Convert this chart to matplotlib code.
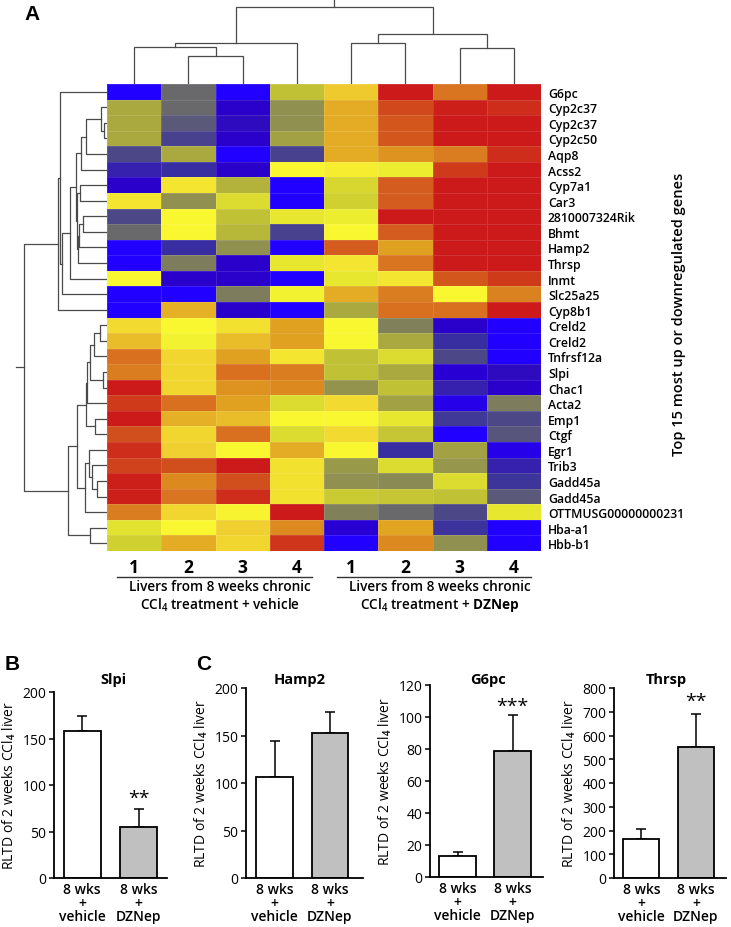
import matplotlib
matplotlib.use("Agg")
import matplotlib.pyplot as plt
from matplotlib.colors import LinearSegmentedColormap
from matplotlib.lines import Line2D
import numpy as np

plt.rcParams['font.family'] = ['Open Sans', 'DejaVu Sans']
plt.rcParams['font.weight'] = 'semibold'
plt.rcParams['mathtext.fontset'] = 'custom'
plt.rcParams['mathtext.rm'] = 'Open Sans:semibold'
plt.rcParams['mathtext.bf'] = 'Open Sans:bold'

# ---------------- data ----------------
genes = ["G6pc", "Cyp2c37", "Cyp2c37", "Cyp2c50", "Aqp8", "Acss2", "Cyp7a1", "Car3",
         "2810007324Rik", "Bhmt", "Hamp2", "Thrsp", "Inmt", "Slc25a25", "Cyp8b1",
         "Creld2", "Creld2", "Tnfrsf12a", "Slpi", "Chac1", "Acta2", "Emp1", "Ctgf",
         "Egr1", "Trib3", "Gadd45a", "Gadd45a", "OTTMUSG00000000231", "Hba-a1", "Hbb-b1"]

sample_labels = ["1", "2", "3", "4", "1", "2", "3", "4"]

# relative expression (0 = lowest / blue, 1 = highest / red), columns 1-4
heat_vehicle = [
    [0.00, 0.30, 0.00, 0.55], [0.50, 0.30, 0.05, 0.42], [0.50, 0.25, 0.07, 0.42],
    [0.50, 0.18, 0.05, 0.48], [0.20, 0.50, 0.00, 0.18], [0.10, 0.12, 0.05, 0.65],
    [0.05, 0.68, 0.52, 0.00], [0.68, 0.42, 0.60, 0.00], [0.20, 0.65, 0.55, 0.62],
    [0.30, 0.65, 0.53, 0.18], [0.00, 0.12, 0.42, 0.00], [0.00, 0.36, 0.05, 0.62],
    [0.65, 0.05, 0.05, 0.00], [0.00, 0.00, 0.36, 0.64], [0.00, 0.77, 0.05, 0.00],
    [0.70, 0.65, 0.69, 0.80], [0.75, 0.64, 0.75, 0.80], [0.87, 0.71, 0.80, 0.68],
    [0.85, 0.71, 0.87, 0.85], [1.00, 0.71, 0.82, 0.83], [0.95, 0.87, 0.80, 0.60],
    [1.00, 0.77, 0.75, 0.65], [0.92, 0.71, 0.87, 0.60], [0.97, 0.72, 0.65, 0.78],
    [0.94, 0.92, 1.00, 0.69], [0.99, 0.83, 0.92, 0.69], [0.99, 0.86, 0.97, 0.69],
    [0.85, 0.71, 0.66, 1.00], [0.61, 0.65, 0.72, 0.83], [0.58, 0.78, 0.71, 0.96]]

# columns 1-4 of DZNep group
heat_dznep = [
    [0.73, 1.00, 0.86, 1.00], [0.78, 0.93, 0.99, 0.97], [0.78, 0.91, 1.00, 1.00],
    [0.78, 0.91, 1.00, 1.00], [0.78, 0.82, 0.85, 0.97], [0.67, 0.63, 0.95, 1.00],
    [0.59, 0.90, 1.00, 1.00], [0.58, 0.90, 1.00, 1.00], [0.63, 1.00, 1.00, 1.00],
    [0.65, 0.90, 1.00, 1.00], [0.90, 0.80, 1.00, 1.00], [0.68, 0.86, 1.00, 1.00],
    [0.62, 0.68, 0.91, 0.95], [0.78, 0.85, 0.65, 0.84], [0.50, 0.87, 0.87, 1.00],
    [0.65, 0.37, 0.05, 0.00], [0.65, 0.50, 0.12, 0.00], [0.55, 0.60, 0.20, 0.00],
    [0.55, 0.50, 0.04, 0.07], [0.43, 0.55, 0.10, 0.05], [0.70, 0.48, 0.02, 0.36],
    [0.65, 0.62, 0.15, 0.20], [0.70, 0.56, 0.00, 0.24], [0.65, 0.12, 0.48, 0.02],
    [0.45, 0.60, 0.44, 0.10], [0.42, 0.40, 0.60, 0.14], [0.57, 0.56, 0.55, 0.25],
    [0.37, 0.30, 0.20, 0.62], [0.04, 0.79, 0.13, 0.00], [0.00, 0.83, 0.42, 0.00]]

# column dendrogram merges: (child a, child b, height); leaves 0..7, new nodes 8..
col_links = [(1, 2, 28), (0, 8, 37), (9, 3, 41), (4, 5, 41), (6, 7, 36),
             (11, 12, 50), (10, 13, 77)]
col_root_top = 84

# row dendrogram merges; leaves 0..29, new nodes 30..
row_links = [(2, 3, 3), (1, 30, 6), (31, 4, 21), (32, 5, 26), (6, 7, 27),
             (8, 9, 24), (35, 10, 28), (36, 11, 29), (34, 37, 30), (33, 38, 31),
             (39, 12, 37), (40, 13, 45), (0, 41, 47), (42, 14, 49),
             (15, 16, 7), (44, 17, 13), (18, 19, 4), (45, 46, 17), (47, 20, 20),
             (21, 22, 12), (48, 49, 21), (25, 26, 10), (24, 51, 15), (23, 52, 18),
             (53, 27, 22), (50, 54, 30), (28, 29, 17), (55, 56, 39), (43, 57, 83)]
row_root_top = 91

bar_groups = ["8 wks\n+\nvehicle", "8 wks\n+\nDZNep"]
slpi_mean = [158, 55]
slpi_err = [16, 19]
hamp2_mean = [106, 153]
hamp2_err = [38, 22]
g6pc_mean = [13, 79]
g6pc_err = [2.5, 22]
thrsp_mean = [163, 553]
thrsp_err = [42, 137]
stars = {"Slpi": "**", "Hamp2": "", "G6pc": "***", "Thrsp": "**"}

# ---------------- figure ----------------
W, H = 731, 928
fig = plt.figure(figsize=(W / 100, H / 100), dpi=100)


def px_axes(l, t, r, b):
    return fig.add_axes([l / W, 1 - b / H, (r - l) / W, (b - t) / H])


cmap = LinearSegmentedColormap.from_list("heat", [
    (0.00, "#2200ff"), (0.05, "#2a00c8"), (0.12, "#3a30a0"), (0.20, "#4c4888"),
    (0.30, "#6a6a6a"), (0.42, "#909050"), (0.50, "#a8a840"), (0.58, "#d0d030"),
    (0.65, "#f8f830"), (0.72, "#f0d030"), (0.80, "#e0a020"), (0.87, "#d87020"),
    (0.93, "#d04a1c"), (1.00, "#cc1a1a")])

HL, HT, HR, HB = 107, 85, 541, 552
axh = px_axes(HL, HT, HR, HB)
data = np.hstack([np.array(heat_vehicle), np.array(heat_dznep)])
nrow, ncol = data.shape
axh.pcolormesh(np.arange(ncol + 1), np.arange(nrow + 1), data, cmap=cmap,
               vmin=0, vmax=1, edgecolors=(1, 1, 1, 0.12), linewidth=0.4)
axh.set_xlim(0, ncol)
axh.set_ylim(nrow, 0)
for s in axh.spines.values():
    s.set_visible(False)
axh.yaxis.tick_right()
axh.set_yticks(np.arange(nrow) + 0.5)
axh.set_yticklabels(genes, fontsize=8.8)
axh.tick_params(axis='y', length=0, pad=5)
axh.set_xticks(np.arange(ncol) + 0.5)
axh.set_xticklabels(sample_labels, fontsize=12.5, fontweight='bold')
axh.tick_params(axis='x', length=0, pad=5)

# group underlines and labels
for (x0, x1) in [(117, 312), (337, 531)]:
    fig.add_artist(Line2D([x0 / W, x1 / W], [1 - 578 / H, 1 - 578 / H],
                          color='#333333', lw=1.0, transform=fig.transFigure))
fig.text(220 / W, 1 - 597 / H,
         "Livers from 8 weeks chronic\nCCl$_4$ treatment + vehicle",
         ha='center', va='center', fontsize=9.8, linespacing=1.2)
fig.text(440 / W, 1 - 597 / H,
         "Livers from 8 weeks chronic\nCCl$_4$ treatment + $\\mathbf{DZNep}$",
         ha='center', va='center', fontsize=9.8, linespacing=1.2)

fig.text(679 / W, 1 - 314 / H, "Top 15 most up or downregulated genes",
         rotation=90, ha='center', va='center', fontsize=10.5)


def dendro(links, nleaves):
    pos = {i: i + 0.5 for i in range(nleaves)}
    hgt = {i: 0.0 for i in range(nleaves)}
    segs = []
    for k, (a, b, h) in enumerate(links):
        node = nleaves + k
        segs.append(([pos[a], pos[a], pos[b], pos[b]], [hgt[a], h, h, hgt[b]]))
        pos[node] = (pos[a] + pos[b]) / 2
        hgt[node] = h
    return segs, pos[nleaves + len(links) - 1], hgt[nleaves + len(links) - 1]


# column dendrogram (top)
axc = px_axes(HL, 0, HR, HT)
segs, rp, rh = dendro(col_links, ncol)
for xs, ys in segs:
    axc.plot(xs, ys, color='#4a4a4a', lw=0.9, solid_joinstyle='miter')
axc.plot([rp, rp], [rh, col_root_top], color='#4a4a4a', lw=0.9)
axc.set_xlim(0, ncol)
axc.set_ylim(0, HT)
axc.axis('off')

# row dendrogram (left)
axr = px_axes(0, HT, HL, HB)
segs, rp, rh = dendro(row_links, nrow)
for ys, xs in segs:
    axr.plot(xs, ys, color='#4a4a4a', lw=0.9)
axr.plot([rh, row_root_top], [rp, rp], color='#4a4a4a', lw=0.9)
axr.set_xlim(HL, 0)
axr.set_ylim(nrow, 0)
axr.axis('off')

for lab, x, y in [("A", 32, 14), ("B", 12, 664), ("C", 204, 664)]:
    fig.text(x / W, 1 - y / H, lab, fontsize=15, fontweight='bold', ha='center',
             va='center', family=['Liberation Sans', 'DejaVu Sans'])


def bar_panel(rect, title, means, errs, ymax, step, xlim, star, star_y, title_x):
    ax = px_axes(*rect)
    x = np.arange(len(means))
    ax.bar(x, means, width=0.66, color=['white', '#c0c0c0'], edgecolor='black', lw=1.3,
           zorder=2)
    ax.errorbar(x, means, yerr=[np.zeros(len(errs)), errs], fmt='none', ecolor='black',
                elinewidth=1.1, capsize=3.5, capthick=1.1, zorder=1)
    ax.set_ylim(0, ymax)
    ax.set_xlim(*xlim)
    ax.set_yticks(np.arange(0, ymax + step / 2, step))
    ax.set_yticklabels([f"{v:g}" for v in np.arange(0, ymax + step / 2, step)],
                       fontweight='normal')
    ax.tick_params(axis='y', labelsize=10, length=3.5, width=1.1, pad=2)
    ax.set_xticks(x)
    ax.set_xticklabels(bar_groups, fontsize=10, linespacing=0.95)
    ax.tick_params(axis='x', length=0, pad=3)
    for s in ['top', 'right']:
        ax.spines[s].set_visible(False)
    for s in ['left', 'bottom']:
        ax.spines[s].set_linewidth(1.3)
    ax.set_ylabel("RLTD of 2 weeks CCl$_4$ liver", fontsize=10, labelpad=3)
    fig.text(title_x / W, 1 - 680 / H, title, fontsize=10.5, fontweight='bold',
             ha='center', va='center')
    if star:
        ax.text(1, star_y, star, ha='center', va='center', fontsize=14,
                fontweight='normal')
    return ax


bar_panel((54, 693, 167, 879), "Slpi", slpi_mean, slpi_err, 200, 50, (-0.5, 1.5),
          stars["Slpi"], 86, 113)
bar_panel((246, 689, 363, 879), "Hamp2", hamp2_mean, hamp2_err, 200, 50, (-0.52, 1.6),
          stars["Hamp2"], 0, 300)
bar_panel((430, 686, 543, 878), "G6pc", g6pc_mean, g6pc_err, 120, 20, (-0.5, 1.55),
          stars["G6pc"], 107, 488)
bar_panel((614, 689, 726, 879), "Thrsp", thrsp_mean, thrsp_err, 800, 100, (-0.5, 1.55),
          stars["Thrsp"], 745, 666)

fig.savefig("out.png", dpi=100, facecolor='white')
